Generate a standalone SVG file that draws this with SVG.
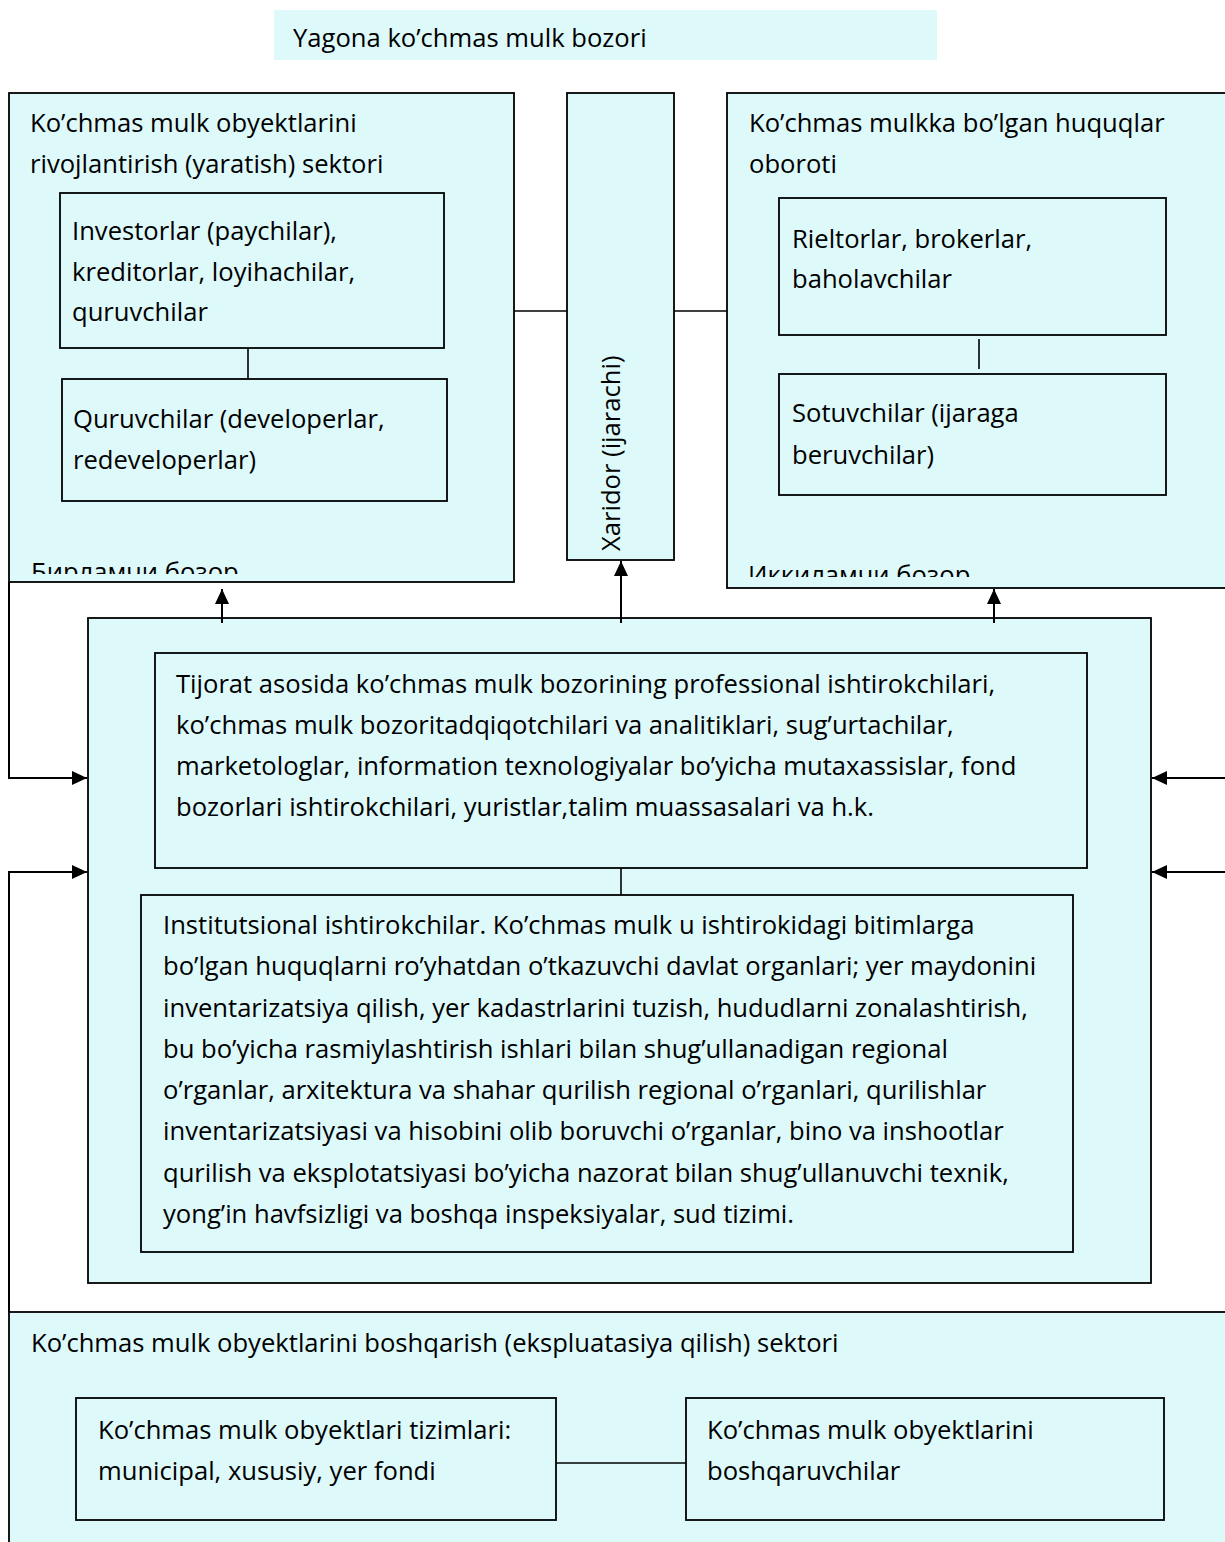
<svg xmlns="http://www.w3.org/2000/svg" width="1225" height="1542" viewBox="0 0 1225 1542">
<style>
.box{fill:#ddf9fa;stroke:#000;stroke-width:1.8}
.t{font-family:'Open Sans','Liberation Sans',sans-serif;font-size:25.6px;fill:#000}
.ln{stroke:#000;stroke-width:1.6;fill:none}
.ar{stroke:#000;stroke-width:2;fill:none;marker-end:url(#ah)}
</style>
<defs>
<marker id="ah" markerUnits="userSpaceOnUse" markerWidth="16" markerHeight="14" refX="15" refY="7" orient="auto"><path d="M0,0 L15,7 L0,14 z" fill="#000"/></marker>
<clipPath id="c1"><rect x="10" y="93" width="503" height="481"/></clipPath>
<clipPath id="c2"><rect x="728" y="93" width="500" height="484"/></clipPath>
</defs>
<rect width="1225" height="1542" fill="#fff"/>

<g id="title">
<rect x="274" y="10" width="663" height="50" fill="#ddf9fa"/>
<text class="t" x="293" y="47">Yagona ko’chmas mulk bozori</text>
</g>

<g id="primary-sector">
<rect class="box" x="9" y="93" width="505" height="489"/>
<text class="t" x="30" y="132">Ko’chmas mulk obyektlarini</text>
<text class="t" x="30" y="173">rivojlantirish (yaratish) sektori</text>
<text class="t" x="31" y="581" clip-path="url(#c1)">Бирламчи бозор</text>
</g>
<g id="investors">
<rect class="box" x="60" y="193" width="384" height="155"/>
<text class="t" x="72" y="240">Investorlar (paychilar),</text>
<text class="t" x="72" y="281">kreditorlar, loyihachilar,</text>
<text class="t" x="72" y="321">quruvchilar</text>
</g>
<g id="developers">
<rect class="box" x="62" y="379" width="385" height="122"/>
<text class="t" x="73" y="428">Quruvchilar (developerlar,</text>
<text class="t" x="73" y="469">redeveloperlar)</text>
</g>

<g id="buyer">
<rect class="box" x="567" y="93" width="107" height="467"/>
<text class="t" transform="translate(620,551) rotate(-90)">Xaridor (ijarachi)</text>
</g>

<g id="secondary-sector">
<rect class="box" x="727" y="93" width="503" height="495"/>
<text class="t" x="749" y="132">Ko’chmas mulkka bo’lgan huquqlar</text>
<text class="t" x="749" y="173">oboroti</text>
<text class="t" x="748" y="584" clip-path="url(#c2)">Иккиламчи бозор</text>
</g>
<g id="realtors">
<rect class="box" x="779" y="198" width="387" height="137"/>
<text class="t" x="792" y="248">Rieltorlar, brokerlar,</text>
<text class="t" x="792" y="288">baholavchilar</text>
</g>
<g id="sellers">
<rect class="box" x="779" y="374" width="387" height="121"/>
<text class="t" x="792" y="422">Sotuvchilar (ijaraga</text>
<text class="t" x="792" y="464">beruvchilar)</text>
</g>

<g id="infrastructure">
<rect class="box" x="88" y="618" width="1063" height="665"/>
</g>
<g id="commercial">
<rect class="box" x="155" y="653" width="932" height="215"/>
<text class="t" x="176" y="693">Tijorat asosida ko’chmas mulk bozorining professional ishtirokchilari,</text>
<text class="t" x="176" y="734">ko’chmas mulk bozoritadqiqotchilari va analitiklari, sug’urtachilar,</text>
<text class="t" x="176" y="775">marketologlar, information texnologiyalar bo’yicha mutaxassislar, fond</text>
<text class="t" x="176" y="816">bozorlari ishtirokchilari, yuristlar,talim muassasalari va h.k.</text>
</g>
<g id="institutional">
<rect class="box" x="141" y="895" width="932" height="357"/>
<text class="t" x="163" y="934">Institutsional ishtirokchilar. Ko’chmas mulk u ishtirokidagi bitimlarga</text>
<text class="t" x="163" y="975">bo’lgan huquqlarni ro’yhatdan o’tkazuvchi davlat organlari; yer maydonini</text>
<text class="t" x="163" y="1017">inventarizatsiya qilish, yer kadastrlarini tuzish, hududlarni zonalashtirish,</text>
<text class="t" x="163" y="1058">bu bo’yicha rasmiylashtirish ishlari bilan shug’ullanadigan regional</text>
<text class="t" x="163" y="1099">o’rganlar, arxitektura va shahar qurilish regional o’rganlari, qurilishlar</text>
<text class="t" x="163" y="1140">inventarizatsiyasi va hisobini olib boruvchi o’rganlar, bino va inshootlar</text>
<text class="t" x="163" y="1182">qurilish va eksplotatsiyasi bo’yicha nazorat bilan shug’ullanuvchi texnik,</text>
<text class="t" x="163" y="1223">yong’in havfsizligi va boshqa inspeksiyalar, sud tizimi.</text>
</g>

<g id="management-sector">
<rect class="box" x="9" y="1312" width="1225" height="240"/>
<text class="t" x="31" y="1352">Ko’chmas mulk obyektlarini boshqarish (ekspluatasiya qilish) sektori</text>
</g>
<g id="property-systems">
<rect class="box" x="76" y="1398" width="480" height="122"/>
<text class="t" x="98" y="1439">Ko’chmas mulk obyektlari tizimlari:</text>
<text class="t" x="98" y="1480">municipal, xususiy, yer fondi</text>
</g>
<g id="managers">
<rect class="box" x="686" y="1398" width="478" height="122"/>
<text class="t" x="707" y="1439">Ko’chmas mulk obyektlarini</text>
<text class="t" x="707" y="1480">boshqaruvchilar</text>
</g>

<g id="connectors">
<line class="ln" x1="248" y1="348" x2="248" y2="379"/>
<line class="ln" x1="514" y1="311" x2="567" y2="311"/>
<line class="ln" x1="674" y1="311" x2="727" y2="311"/>
<line class="ln" x1="979" y1="339" x2="979" y2="369"/>
<line class="ln" x1="621" y1="868" x2="621" y2="895"/>
<line class="ln" x1="556" y1="1463" x2="686" y2="1463"/>
<line class="ar" x1="222" y1="623" x2="222" y2="589"/>
<line class="ar" x1="621" y1="623" x2="621" y2="561"/>
<line class="ar" x1="994" y1="623" x2="994" y2="589"/>
<path class="ar" d="M9,582 V778 H87"/>
<path class="ar" d="M9,1312 V872 H87"/>
<line class="ar" x1="1225" y1="778" x2="1152" y2="778"/>
<line class="ar" x1="1225" y1="872" x2="1152" y2="872"/>
</g>
</svg>
